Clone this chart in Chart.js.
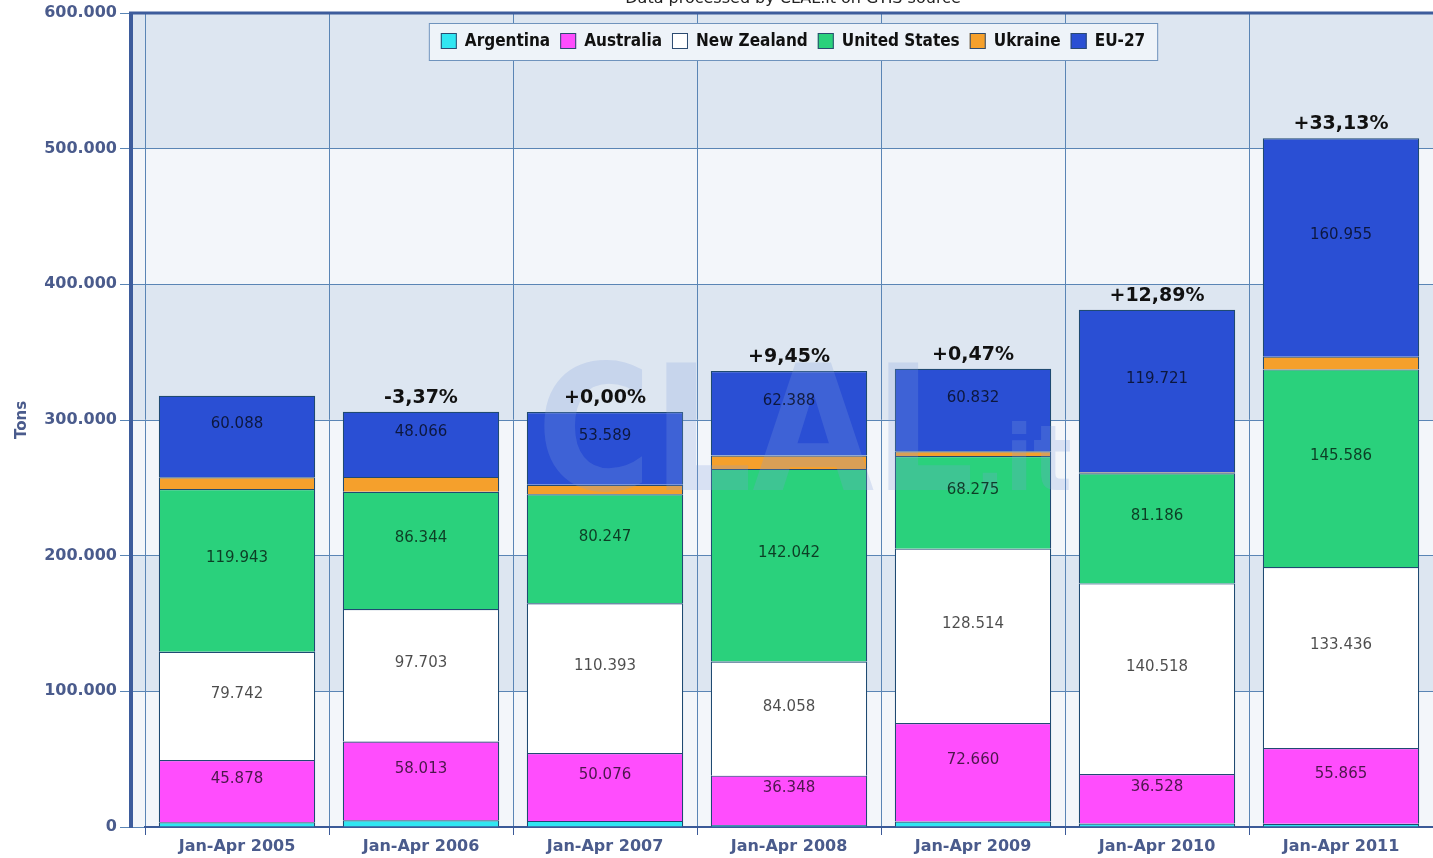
<!DOCTYPE html>
<html><head><meta charset="utf-8">
<script src="https://cdn.jsdelivr.net/npm/chart.js@4/dist/chart.umd.min.js"></script>
<style>html,body{margin:0;padding:0;background:#fff;overflow:hidden}#wrap{position:relative;width:1433px;height:858px}</style>
</head><body><div id="wrap"><canvas id="c" width="1433" height="858"></canvas></div>
<script>
const categories = ["Jan-Apr 2005", "Jan-Apr 2006", "Jan-Apr 2007", "Jan-Apr 2008", "Jan-Apr 2009", "Jan-Apr 2010", "Jan-Apr 2011"];
const seriesNames = ["Argentina", "Australia", "New Zealand", "United States", "Ukraine", "EU-27"];
const argentina = [3500, 5000, 4500, 1500, 4000, 2500, 2400];
const australia = [45878, 58013, 50076, 36348, 72660, 36528, 55865];
const newZealand = [79742, 97703, 110393, 84058, 128514, 140518, 133436];
const unitedStates = [119943, 86344, 80247, 142042, 68275, 81186, 145586];
const ukraine = [8700, 11000, 7000, 9800, 3500, 800, 9400];
const eu27 = [60088, 48066, 53589, 62388, 60832, 119721, 160955];
const changeLabels = ["", "-3,37%", "+0,00%", "+9,45%", "+0,47%", "+12,89%", "+33,13%"];
const labeledSeries = [1, 2, 3, 5];
const yMin = 0, yMax = 600000, yStep = 100000;

const colors = ['#30e6f2', '#ff4dfd', '#ffffff', '#2ad17c', '#f5a02c', '#2a4fd4'];
const seriesValues = [argentina, australia, newZealand, unitedStates, ukraine, eu27];
const axisText = '#4a5b8c';
const gridColor = '#5a85b5';

const fmt = v => Math.round(v).toLocaleString('de-DE');

const bgPlugin = {
  id: 'bands',
  beforeDraw(chart) {
    const {ctx, chartArea} = chart;
    const y = chart.scales.y;
    ctx.save();
    for (let v = yMin, k = 0; v < yMax; v += yStep, k++) {
      const yt = y.getPixelForValue(v + yStep), yb = y.getPixelForValue(v);
      ctx.fillStyle = (k % 2 === 1) ? '#dde6f1' : '#f3f6fa';
      ctx.fillRect(130, yt, chartArea.right - 130, yb - yt);
    }
    ctx.restore();
  }
};

const labelPlugin = {
  id: 'valueLabels',
  afterDatasetsDraw(chart) {
    const ctx = chart.ctx;
    ctx.save();
    // watermark
    const xs = chart.scales.x;
    const wx = (xs.getPixelForValue(2) + xs.getPixelForValue(4)) / 2 + 15;
    ctx.fillStyle = 'rgba(130,160,220,0.24)';
    ctx.textBaseline = 'alphabetic';
    ctx.textAlign = 'left';
    ctx.font = 'bold 175px "DejaVu Sans Condensed"';
    const w1 = ctx.measureText('CLAL').width;
    ctx.font = 'bold 90px "DejaVu Sans Condensed"';
    const w2 = ctx.measureText('.it').width;
    const sx = wx - (w1 + w2) / 2;
    ctx.font = 'bold 175px "DejaVu Sans Condensed"';
    ctx.fillText('CLAL', sx, 490);
    ctx.font = 'bold 90px "DejaVu Sans Condensed"';
    ctx.fillText('.it', sx + w1, 490);

    ctx.textAlign = 'center';
    ctx.textBaseline = 'middle';
    ctx.font = '15px "DejaVu Sans"';
    ctx.fillStyle = 'rgba(0,0,0,0.7)';
    labeledSeries.forEach(di => {
      const meta = chart.getDatasetMeta(di);
      meta.data.forEach((el, i) => {
        const cy = (el.y + el.base) / 2 - 12;
        ctx.fillText(fmt(chart.data.datasets[di].data[i]), el.x, cy);
      });
    });
    const topMeta = chart.getDatasetMeta(chart.data.datasets.length - 1);
    ctx.font = 'bold 19px "DejaVu Sans"';
    ctx.fillStyle = '#111';
    topMeta.data.forEach((el, i) => {
      if (changeLabels[i]) ctx.fillText(changeLabels[i], el.x, el.y - 14);
    });
    ctx.restore();
  },
  afterDraw(chart) {
    const {ctx, chartArea} = chart;
    ctx.save();
    // frame lines
    ctx.strokeStyle = '#3d5c9c';
    ctx.lineWidth = 4;
    ctx.beginPath(); ctx.moveTo(131, chartArea.top - 1); ctx.lineTo(131, chartArea.bottom + 1); ctx.stroke();
    ctx.lineWidth = 3;
    ctx.beginPath(); ctx.moveTo(129, chartArea.top); ctx.lineTo(chartArea.right, chartArea.top); ctx.stroke();
    // title (cut off at top)
    ctx.fillStyle = '#222';
    ctx.font = '16px "DejaVu Sans"';
    ctx.textAlign = 'center';
    ctx.textBaseline = 'alphabetic';
    ctx.fillText('Data processed by CLAL.it on GTIS source', 793, 3);
    // legend
    ctx.font = 'bold 17px "DejaVu Sans Condensed"';
    const ds = chart.data.datasets;
    const box = 16, gapBT = 8, gapItem = 10, padX = 12;
    const widths = ds.map(d => ctx.measureText(d.label).width);
    const total = widths.reduce((s, w) => s + box + gapBT + w, 0) + gapItem * (ds.length - 1);
    const lx = 793 - total / 2 - padX;
    ctx.fillStyle = '#eef3f9';
    ctx.fillRect(lx, 23, total + 2 * padX, 37);
    ctx.strokeStyle = '#6f93bd';
    ctx.lineWidth = 1;
    ctx.strokeRect(lx + 0.5, 23.5, total + 2 * padX, 37);
    let x = lx + padX;
    ctx.textAlign = 'left';
    ctx.textBaseline = 'middle';
    ds.forEach((d, i) => {
      ctx.fillStyle = d.backgroundColor;
      ctx.fillRect(x, 33, box, box);
      ctx.strokeStyle = '#2b4a70';
      ctx.strokeRect(x + 0.5, 33.5, box - 1, box - 1);
      ctx.fillStyle = '#111';
      ctx.fillText(d.label, x + box + gapBT, 42);
      x += box + gapBT + widths[i] + gapItem;
    });
    ctx.restore();
  }
};

new Chart(document.getElementById('c'), {
  type: 'bar',
  data: {
    labels: categories,
    datasets: seriesNames.map((name, i) => ({
      label: name,
      data: seriesValues[i],
      backgroundColor: colors[i],
      borderColor: '#1f4a72',
      borderWidth: 1.2,
      inflateAmount: 0,
      categoryPercentage: 1,
      barPercentage: 0.85
    }))
  },
  options: {
    responsive: false,
    animation: false,
    devicePixelRatio: 1,
    layout: {padding: {top: 13, right: 0, bottom: 0, left: 0}},
    plugins: {legend: {display: false}, tooltip: {enabled: false}, title: {display: false}},
    scales: {
      x: {
        stacked: true,
        offset: true,
        grid: {offset: true, color: gridColor, lineWidth: 1, tickLength: 8, tickColor: '#3b5a98'},
        border: {display: true, color: '#3b5a98', width: 2},
        ticks: {color: axisText, font: {family: 'DejaVu Sans', weight: 'bold', size: 16}, padding: 2, maxRotation: 0, autoSkip: false},
        afterFit: s => { s.height = 31; }
      },
      y: {
        stacked: true,
        min: yMin, max: yMax,
        ticks: {stepSize: yStep, callback: v => fmt(v), color: axisText, font: {family: 'DejaVu Sans', weight: 'bold', size: 16}, padding: 3},
        grid: {color: gridColor, lineWidth: 1, tickLength: 25},
        border: {display: false},
        title: {display: true, text: 'Tons', color: axisText, font: {family: 'DejaVu Sans', weight: 'bold', size: 15}, padding: {top: 13, bottom: 0}},
        afterFit: s => { s.width = 145; }
      }
    }
  },
  plugins: [bgPlugin, labelPlugin]
});
</script>
</body></html>
